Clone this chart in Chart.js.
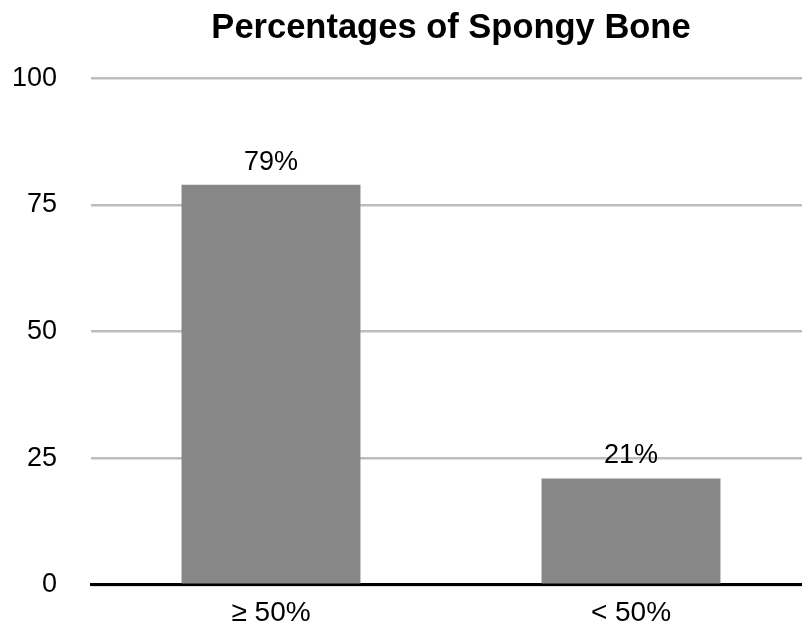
<!doctype html>
<html lang="en">
  <head>
    <meta charset="utf-8">
    <title>Percentages of Spongy Bone</title>
    <style>
      * {
        margin: 0;
        padding: 0;
      }
      body {
        width: 802px;
        height: 631px;
        overflow: hidden;
        background: #fff;
      }
      .chartBox {
        width: 902px;
        height: 635px;
      }
      canvas {
        display: block;
      }
    </style>
  </head>
  <body>
    <div class="chartBox"><canvas id="myChart" width="902" height="635"></canvas></div>
    <script src="https://cdn.jsdelivr.net/npm/chart.js/dist/chart.umd.min.js"></script>
    <script>
    const categories = ['\u2265 50%', '< 50%'];
    const percentValues = [79, 21];
    const yTicks = [0, 25, 50, 75, 100];

    const FONT = "'Liberation Sans', Arial, Helvetica, sans-serif";

    // value labels above the bars
    const barLabels = {
      id: 'barLabels',
      afterDatasetsDraw(chart) {
        const {ctx} = chart;
        const meta = chart.getDatasetMeta(0);
        ctx.save();
        ctx.font = '27px ' + FONT;
        ctx.fillStyle = '#000';
        ctx.textAlign = 'center';
        ctx.textBaseline = 'alphabetic';
        meta.data.forEach((bar, i) => {
          ctx.fillText(percentValues[i] + '%', bar.x, bar.y - 15);
        });
        ctx.restore();
      }
    };

    const data = {
      labels: categories,
      datasets: [{
        data: percentValues,
        backgroundColor: '#868786',
        borderWidth: 0,
        categoryPercentage: 1,
        barPercentage: 0.497
      }]
    };

    const config = {
      type: 'bar',
      data,
      options: {
        responsive: false,
        animation: false,
        layout: {
          padding: {left: 0, right: 91, top: 0, bottom: 0}
        },
        plugins: {
          legend: {display: false},
          tooltip: {enabled: false},
          title: {
            display: true,
            fullSize: false,
            text: 'Percentages of Spongy Bone',
            color: '#000',
            font: {family: FONT, size: 34.5, weight: 'bold'},
            padding: {top: 8, bottom: 29}
          }
        },
        scales: {
          x: {
            grid: {display: false, drawTicks: false},
            border: {display: true, color: '#000', width: 3},
            ticks: {
              color: '#000',
              font: {family: FONT, size: 28},
              padding: 12
            },
            afterFit(scale) {
              scale.height = 47;
            }
          },
          y: {
            min: 0,
            max: 100,
            afterBuildTicks(scale) {
              scale.ticks = yTicks.map(v => ({value: v}));
            },
            grid: {color: '#bdbdbd', lineWidth: 2.5, drawTicks: false},
            border: {display: false},
            ticks: {
              color: '#000',
              font: {family: FONT, size: 27},
              padding: 34
            },
            afterFit(scale) {
              scale.width = 91;
            }
          }
        }
      },
      plugins: [barLabels]
    };

    const myChart = new Chart(document.getElementById('myChart'), config);
    </script>
  </body>
</html>
